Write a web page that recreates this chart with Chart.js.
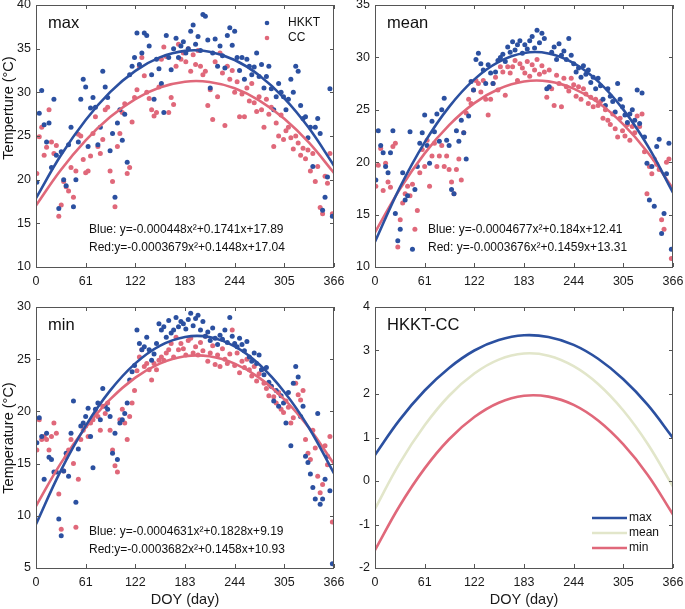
<!DOCTYPE html>
<html>
<head>
<meta charset="utf-8">
<script src="https://cdn.jsdelivr.net/npm/chart.js@4"></script>
<style>
  body { margin: 0; background: #fff; width: 685px; height: 609px; position: relative; overflow: hidden; }
  canvas { position: absolute; }
</style>
</head>
<body>
<canvas id="c2" width="345" height="300" style="left:340px;top:0"></canvas>
<canvas id="c4" width="345" height="309" style="left:340px;top:300px"></canvas>
<canvas id="c1" width="355" height="300" style="left:0;top:0"></canvas>
<canvas id="c3" width="355" height="309" style="left:0;top:300px"></canvas>
<script>
// day of year of the sampled points
const doy = [1,4,7,10,13,16,19,22,25,28,31,34,37,40,43,46,49,52,55,58,
  61,64,67,70,73,76,79,82,85,88,91,94,97,100,103,106,109,112,115,118,
  121,124,127,130,133,136,139,142,145,148,151,154,157,160,163,166,169,172,175,178,
  181,184,187,190,193,196,199,202,205,208,211,214,217,220,223,226,229,232,235,238,
  241,244,247,250,253,256,259,262,265,268,271,274,277,280,283,286,289,292,295,298,
  301,304,307,310,313,316,319,322,325,328,331,334,337,340,343,346,349,352,355,358,361,364];

const maxHKKT = [19.7,27.6,30.2,26.3,24.3,26.5,21.4,29.2,22.8,16.7,
  23.2,20.0,19.3,24.0,26.0,16.9,20.0,24.3,29.2,31.5,
  30.6,23.8,28.2,29.4,28.3,24.0,26.0,32.4,30.6,29.4,
  23.3,25.3,18.0,26.5,28.0,24.5,27.5,22.0,32.0,33.0,
  34.0,36.8,33.2,34.5,36.8,36.5,35.3,32.0,29.2,33.8,
  32.7,31.0,27.7,36.5,34.0,32.6,35.0,36.2,34.0,35.3,
  35.8,34.5,35.0,37.0,37.7,35.5,36.4,34.8,38.9,38.7,
  36.0,30.5,34.5,36.1,33.0,35.3,34.2,32.8,36.5,37.4,
  35.4,37.0,34.0,32.5,34.0,31.5,33.8,33.0,32.0,32.9,
  34.5,31.8,33.2,30.5,31.8,33.0,30.4,28.0,29.5,31.0,
  30.0,29.5,28.0,29.2,31.5,30.0,33.0,32.4,28.5,27.0,
  27.2,24.8,26.0,21.5,26.0,27.0,25.3,16.5,18.0,20.3,30.4,15.8];
const maxCC = [20.7,24.9,26.0,22.8,23.7,28.0,24.3,23.0,23.9,15.8,
  17.1,19.8,19.2,18.7,21.4,18.0,21.0,25.2,25.0,22.3,
  20.8,21.0,22.7,25.3,27.2,23.8,23.0,24.6,28.0,28.3,
  21.0,19.8,16.9,23.8,25.3,27.7,28.7,20.7,21.4,26.6,
  29.4,30.3,33.0,34.0,31.9,30.0,29.3,28.0,27.3,27.7,
  30.6,33.8,35.2,34.1,27.7,29.4,28.6,33.0,35.5,33.8,
  34.5,33.5,35.0,32.4,34.3,33.2,34.8,33.0,32.0,32.4,
  28.5,30.3,26.9,33.5,29.5,34.5,32.2,26.2,33.0,31.5,
  32.5,30.0,31.2,27.2,29.8,27.2,30.5,29.0,31.0,28.8,
  27.8,29.5,28.0,26.0,29.2,27.5,28.3,23.8,26.5,25.0,
  27.4,24.6,25.6,26.0,24.8,23.5,25.0,24.2,22.8,23.6,
  22.4,23.4,21.0,23.0,19.8,21.5,16.8,16.1,20.4,19.6,23.0,16.1];

const meanHKKT = [18.3,23.0,21.6,20.9,19.6,19.0,20.9,23.0,15.1,12.5,
  13.6,19.0,16.4,16.8,22.9,11.7,17.4,19.6,21.8,22.8,
  24.5,21.6,19.9,23.9,22.9,24.6,22.0,25.0,26.1,22.1,
  21.6,17.4,17.0,23.0,22.0,24.0,22.8,20.3,24.4,27.7,
  26.9,29.8,30.4,29.4,28.8,27.5,29.3,28.5,27.5,28.6,
  29.7,30.0,30.3,29.6,31.0,30.5,31.5,30.7,31.2,31.6,
  30.4,31.2,30.8,31.6,32.0,30.9,32.6,31.4,32.3,31.8,
  27.0,27.2,30.5,31.0,29.8,31.3,30.2,30.6,29.8,31.8,
  30.2,29.4,28.6,29.0,28.1,29.2,28.4,28.8,27.6,28.1,
  27.0,28.0,27.3,26.0,25.4,27.0,26.3,25.8,24.8,27.5,
  26.0,25.3,24.5,23.8,24.6,25.0,24.0,26.9,23.7,26.6,
  22.4,19.9,16.4,19.6,15.8,21.5,22.2,13.2,15.1,18.9,21.8,11.7];
const meanCC = [17.7,19.7,21.3,17.3,19.9,18.1,17.6,21.5,21.8,11.9,
  14.5,16.1,17.0,17.7,16.8,17.9,13.6,15.4,19.0,21.2,
  19.6,22.1,17.7,20.6,21.8,19.6,20.6,21.6,19.6,20.6,
  19.3,18.1,17.0,19.3,20.3,18.3,22.8,24.7,26.0,25.6,
  26.9,27.8,27.5,26.7,27.8,26.0,24.5,26.0,27.5,28.1,
  26.9,29.1,28.6,26.4,29.1,28.5,29.1,29.7,27.8,29.4,
  29.0,28.5,29.6,28.2,29.3,28.8,29.8,28.4,29.2,28.6,
  26.2,28.8,27.0,25.4,28.3,27.5,25.3,28.0,27.2,26.8,
  28.0,27.4,26.3,27.2,26.0,27.0,26.5,25.6,26.2,25.3,
  26.0,25.4,25.8,24.2,25.0,24.0,23.6,24.6,23.2,22.4,
  24.2,23.0,22.5,23.6,22.1,23.4,22.8,24.4,23.4,24.6,
  21.0,17.0,19.6,18.9,20.3,19.8,19.3,14.5,13.6,20.0,20.3,10.8];

const minHKKT = [17.0,19.4,17.6,13.5,17.9,15.6,15.4,14.2,14.2,9.7,
  8.1,14.3,16.0,13.8,17.9,21.0,11.3,16.4,18.6,18.9,
  19.5,20.3,17.6,14.6,20.2,20.8,19.2,22.2,20.5,20.2,
  19.5,16.0,17.9,15.4,18.9,19.2,19.8,20.8,23.0,23.8,
  24.4,27.8,26.5,25.9,26.2,27.1,25.9,24.9,25.5,26.5,
  28.4,27.8,28.1,27.1,28.7,27.5,27.8,29.0,28.1,28.6,
  28.4,27.9,28.8,29.4,28.2,28.9,29.2,27.8,28.6,27.2,
  27.6,26.8,28.0,27.0,26.4,27.3,26.9,27.8,26.6,29.0,
  27.2,26.5,26.2,27.0,26.4,25.8,26.7,25.2,24.8,25.6,
  24.6,25.4,24.0,23.5,24.2,22.8,22.4,21.0,22.0,20.5,
  21.5,20.8,18.9,21.8,16.7,22.7,24.3,23.3,19.5,20.5,
  15.7,15.1,14.0,12.7,11.6,19.8,11.1,11.6,13.5,15.7,12.4,5.4];
const minCC = [16.3,19.2,17.3,17.6,17.3,16.3,17.6,18.9,17.9,12.1,
  8.7,14.3,15.6,16.3,17.3,15.0,8.9,13.5,17.3,18.2,
  18.6,17.6,18.9,19.2,19.8,19.5,18.2,20.5,19.8,20.8,
  18.2,16.3,14.8,14.2,19.2,20.2,18.9,17.3,19.5,20.8,
  22.0,23.9,25.2,25.9,24.3,24.6,24.0,23.0,24.6,24.0,
  24.9,25.2,24.9,25.6,25.9,26.5,25.2,27.1,25.9,26.5,
  26.0,25.4,26.8,27.0,25.6,26.2,25.4,26.6,25.8,27.2,
  24.8,25.6,26.3,24.5,25.4,24.3,26.0,25.0,24.6,25.5,
  27.8,24.4,25.6,23.7,24.8,24.2,25.0,24.0,23.4,24.3,
  22.9,23.6,24.0,22.7,22.2,21.5,22.4,21.4,20.8,21.8,
  20.2,19.9,21.0,20.4,18.9,19.4,22.7,21.6,21.1,22.0,
  17.3,16.0,15.4,18.2,16.5,13.8,12.2,13.0,16.7,14.9,17.6,9.4];

// fitted curves read at these days
const fitDoy = [0,30,61,91,122,152,183,213,244,274,305,335,366];
const fitMaxHKKT = [17.89,22.71,26.84,30.02,32.46,34.00,34.75,34.65,33.70,31.96,29.32,25.94,21.60];
const fitMaxCC = [17.04,21.05,24.50,27.17,29.23,30.55,31.22,31.19,30.47,29.09,26.98,24.26,20.76];
const fitMeanHKKT = [12.41,17.51,21.89,25.28,27.90,29.57,30.42,30.38,29.46,27.71,25.02,21.56,17.10];
const fitMeanCC = [13.31,17.36,20.84,23.54,25.64,26.99,27.70,27.71,27.02,25.69,23.61,20.93,17.47];
const fitMinHKKT = [9.19,14.26,18.62,21.99,24.60,26.28,27.13,27.12,26.22,24.51,21.86,18.46,14.06];
const fitMinCC = [10.93,14.97,18.45,21.15,23.24,24.58,25.28,25.28,24.58,23.24,21.15,18.45,14.97];
const diffMax = [0.60,1.40,2.08,2.60,3.00,3.24,3.35,3.31,3.13,2.81,2.34,1.75,0.99];
const diffMean = [-0.64,0.40,1.28,1.96,2.47,2.79,2.93,2.88,2.64,2.23,1.62,0.85,-0.13];
const diffMin = [-1.59,-0.58,0.29,0.96,1.47,1.80,1.96,1.94,1.75,1.39,0.84,0.14,-0.77];

const xTicks = [0, 61, 122, 183, 244, 305, 366];

const BLUE = '#2b50a0';
const RED = '#e0687a';
const BEIGE = '#e2e6ca';
const FONT = '"Liberation Sans", Arial, sans-serif';

Chart.defaults.font.family = FONT;
Chart.defaults.color = '#1a1a1a';

const pts = (xs, ys) => xs.map((x, i) => ({ x: x, y: ys[i] }));

function dots(vals, color) {
  return { type: 'scatter', data: pts(doy, vals), backgroundColor: color, borderWidth: 0,
    pointRadius: 2.5, order: 2 };
}
function curve(vals, color) {
  return { type: 'line', data: pts(fitDoy, vals), borderColor: color, borderWidth: 2.6,
    pointRadius: 0, tension: 0.4, fill: false, order: 1 };
}

// box, inward ticks, labels inside the axes
const deco = {
  id: 'deco',
  afterDatasetsDraw(chart, args, o) {
    const { ctx, chartArea: a, scales: { x, y } } = chart;
    ctx.save();
    ctx.strokeStyle = '#555';
    ctx.lineWidth = 1;
    ctx.strokeRect(a.left + 0.5, a.top + 0.5, a.right - a.left - 1, a.bottom - a.top);
    ctx.beginPath();
    x.ticks.forEach(t => {
      const p = Math.round(x.getPixelForValue(t.value)) + 0.5;
      ctx.moveTo(p, a.bottom); ctx.lineTo(p, a.bottom - 4);
      ctx.moveTo(p, a.top); ctx.lineTo(p, a.top + 4);
    });
    y.ticks.forEach(t => {
      const p = Math.round(y.getPixelForValue(t.value)) + 0.5;
      ctx.moveTo(a.left, p); ctx.lineTo(a.left + 4, p);
      ctx.moveTo(a.right, p); ctx.lineTo(a.right - 4, p);
    });
    ctx.stroke();

    ctx.fillStyle = '#111';
    ctx.textBaseline = 'middle';
    ctx.textAlign = 'left';
    ctx.font = '16.5px ' + FONT;
    ctx.fillText(o.title, a.left + 12, a.top + 18);

    ctx.font = '12px ' + FONT;
    (o.notes || []).forEach((s, i) => ctx.fillText(s, a.left + 53, a.top + 225 + i * 18));

    if (o.legend) {
      const L = o.legend;
      L.items.forEach((it, i) => {
        const yy = L.y + i * L.dy;
        if (L.kind === 'dot') {
          ctx.fillStyle = it.color;
          ctx.beginPath(); ctx.arc(L.x, yy, 2.3, 0, Math.PI * 2); ctx.fill();
          ctx.fillStyle = '#111';
          ctx.fillText(it.label, L.x + 21, yy);
        } else {
          ctx.strokeStyle = it.color; ctx.lineWidth = 2.6;
          ctx.beginPath(); ctx.moveTo(L.x, yy); ctx.lineTo(L.x + 35, yy); ctx.stroke();
          ctx.fillStyle = '#111';
          ctx.fillText(it.label, L.x + 37, yy);
        }
      });
    }
    if (o.ylabel) {
      ctx.font = '14.5px ' + FONT;
      ctx.textAlign = 'center';
      ctx.translate(9, o.ylabel.y);
      ctx.rotate(-Math.PI / 2);
      ctx.fillText(o.ylabel.text, 0, 0);
    }
    ctx.restore();
  }
};

function panel(id, datasets, ymin, ymax, step, pad, axisH, extra) {
  return new Chart(document.getElementById(id), {
    type: 'scatter',
    data: { datasets: datasets },
    options: {
      responsive: false,
      animation: false,
      layout: { padding: { top: pad.top, right: pad.right, left: 0, bottom: 0 } },
      plugins: { legend: { display: false }, tooltip: { enabled: false }, deco: extra },
      scales: {
        x: {
          type: 'linear', min: 0, max: 366,
          afterBuildTicks: s => { s.ticks = xTicks.map(v => ({ value: v })); },
          afterFit: s => { s.height = axisH; s.paddingLeft = 0; s.paddingRight = 0; },
          grid: { display: false, drawTicks: false },
          border: { display: false },
          ticks: { font: { size: 12.5 }, padding: 7, maxRotation: 0 },
          title: extra.xtitle ? { display: true, text: 'DOY (day)', font: { size: 14.5 }, padding: { top: 0, bottom: 0 } } : { display: false }
        },
        y: {
          min: ymin, max: ymax,
          afterFit: s => { s.width = pad.left; s.paddingTop = 0; s.paddingBottom = 0; },
          grid: { display: false, drawTicks: false },
          border: { display: false },
          ticks: { stepSize: step, font: { size: 12.5 }, padding: 5 }
        }
      }
    },
    plugins: [deco]
  });
}

panel('c1', [
  curve(fitMaxHKKT, BLUE), curve(fitMaxCC, RED),
  dots(maxHKKT, BLUE), dots(maxCC, RED)
], 10, 40, 5, { top: 5, right: 21, left: 36 }, 33, {
  title: 'max',
  notes: ['Blue: y=-0.000448x\u00b2+0.1741x+17.89', 'Red:y=-0.0003679x\u00b2+0.1448x+17.04'],
  legend: { kind: 'dot', x: 267, y: 23, dy: 15, items: [{ label: 'HKKT', color: BLUE }, { label: 'CC', color: RED }] },
  ylabel: { text: 'Temperture (\u00b0C)', y: 108 }
});

panel('c2', [
  curve(fitMeanHKKT, BLUE), curve(fitMeanCC, RED),
  dots(meanHKKT, BLUE), dots(meanCC, RED)
], 10, 35, 5, { top: 5, right: 12, left: 35 }, 33, {
  title: 'mean',
  notes: ['Blue: y=-0.0004677x\u00b2+0.184x+12.41', 'Red: y=-0.0003676x\u00b2+0.1459x+13.31']
});

panel('c3', [
  curve(fitMinHKKT, BLUE), curve(fitMinCC, RED),
  dots(minHKKT, BLUE), dots(minCC, RED)
], 5, 30, 5, { top: 7, right: 21, left: 36 }, 41, {
  title: 'min', xtitle: true,
  notes: ['Blue: y=-0.0004631x\u00b2+0.1828x+9.19', 'Red:y=-0.0003682x\u00b2+0.1458x+10.93'],
  ylabel: { text: 'Temperature (\u00b0C)', y: 138 }
});

panel('c4', [
  curve(diffMax, BLUE), curve(diffMean, BEIGE), curve(diffMin, RED)
], -2, 4, 1, { top: 7, right: 12, left: 35 }, 41, {
  title: 'HKKT-CC', xtitle: true,
  legend: { kind: 'line', x: 252, y: 218, dy: 15, items: [
    { label: 'max', color: BLUE }, { label: 'mean', color: BEIGE }, { label: 'min', color: RED }] }
});
</script>
</body>
</html>
